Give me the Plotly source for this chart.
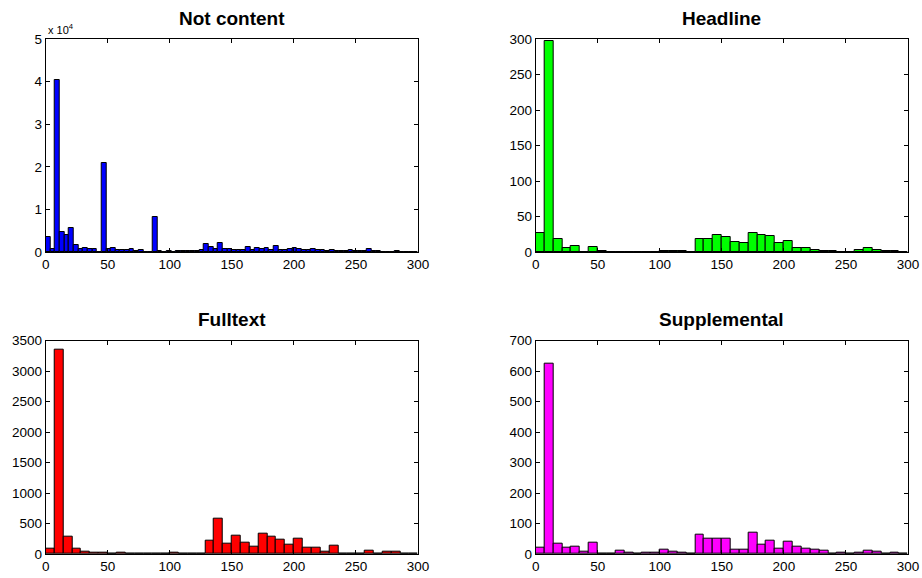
import numpy as np
import plotly.graph_objects as go

# ---------------- data ----------------
titles = ["Not content", "Headline", "Fulltext", "Supplemental"]
colors = ["#0000ff", "#00ff00", "#ff0000", "#ff00ff"]

notcontent_binw = 3.75
notcontent = [3600, 700, 40300, 4600, 4000, 5600, 1600, 600, 900, 700,
              600, 100, 20800, 700, 900, 400, 500, 500, 600, 150,
              500, 100, 100, 8100, 300, 100, 200, 100, 200, 200,
              150, 200, 150, 400, 1800, 1100, 600, 2100, 800, 800,
              400, 400, 400, 1100, 500, 900, 700, 900, 550, 1300,
              500, 550, 800, 900, 800, 500, 500, 700, 500, 400,
              300, 400, 300, 200, 300, 400, 200, 150, 200, 800,
              300, 150, 100, 100, 100, 150, 100, 100, 100, 100]

other_binw = 300 / 42
headline = [27, 297, 18, 6, 8, 0, 7, 1, 0, 0,
            0, 0, 0, 0, 1, 1, 1, 0, 19, 19,
            24, 21, 14, 12, 27, 24, 22, 12, 15, 6,
            6, 3, 2, 2, 0, 0, 3, 5, 3, 2,
            2, 0]
fulltext = [90, 3360, 290, 80, 40, 15, 30, 10, 25, 10,
            5, 10, 5, 5, 25, 5, 10, 3, 225, 575,
            175, 305, 190, 125, 340, 285, 240, 150, 255, 110,
            105, 40, 140, 5, 0, 0, 50, 10, 45, 40,
            10, 0]
supplemental = [22, 626, 34, 22, 25, 8, 37, 2, 2, 10,
                5, 1, 4, 4, 15, 9, 6, 2, 62, 50,
                50, 49, 14, 15, 70, 30, 45, 19, 39, 23,
                19, 15, 12, 2, 5, 1, 5, 10, 9, 1,
                5, 0]

x_ticks = [0, 50, 100, 150, 200, 250, 300]
y_ticks = [
    [0, 10000, 20000, 30000, 40000, 50000],
    [0, 50, 100, 150, 200, 250, 300],
    [0, 500, 1000, 1500, 2000, 2500, 3000, 3500],
    [0, 100, 200, 300, 400, 500, 600, 700],
]
y_ticktext0 = ["0", "1", "2", "3", "4", "5"]

series = [notcontent, headline, fulltext, supplemental]
binws = [notcontent_binw, other_binw, other_binw, other_binw]

# ---------------- layout ----------------
xdoms = [[0.0496, 0.4534], [0.581, 0.9848], [0.0496, 0.4534], [0.581, 0.9848]]
ydoms = [[0.564, 0.9325], [0.564, 0.9325], [0.0415, 0.4106], [0.0415, 0.4106]]

FONT = "Liberation Sans, Arial, Helvetica, sans-serif"
fig = go.Figure()
layout = dict(
    width=922, height=578,
    margin=dict(l=0, r=0, t=0, b=0),
    paper_bgcolor="white", plot_bgcolor="white",
    showlegend=False, bargap=0,
    font=dict(family=FONT, size=13.5, color="black"),
    annotations=[],
)

for i in range(4):
    vals = series[i]
    w = binws[i]
    centers = (np.arange(len(vals)) + 0.5) * w
    xa = "x" if i == 0 else f"x{i+1}"
    ya = "y" if i == 0 else f"y{i+1}"
    fig.add_trace(go.Bar(
        x=centers, y=vals, width=[w] * len(vals),
        marker=dict(color=colors[i], line=dict(color="black", width=1)),
        xaxis=xa, yaxis=ya,
    ))
    common = dict(
        showline=True, linecolor="black", linewidth=1, mirror="ticks",
        ticks="inside", ticklen=4, tickcolor="black", tickwidth=1,
        showgrid=False, zeroline=False, automargin=False,
        tickfont=dict(family=FONT, size=13.5, color="black"),
    )
    xkey = "xaxis" if i == 0 else f"xaxis{i+1}"
    ykey = "yaxis" if i == 0 else f"yaxis{i+1}"
    layout[xkey] = dict(common, domain=xdoms[i], range=[0, 300],
                        tickvals=x_ticks, anchor=ya)
    yt = dict(common, domain=ydoms[i], range=[0, y_ticks[i][-1]],
              tickvals=y_ticks[i], anchor=xa)
    if i == 0:
        yt["ticktext"] = y_ticktext0
    layout[ykey] = yt
    layout["annotations"].append(dict(
        text=f"<b>{titles[i]}</b>", xref="paper", yref="paper",
        x=(xdoms[i][0] + xdoms[i][1]) / 2, y=ydoms[i][1],
        xanchor="center", yanchor="middle", yshift=21, showarrow=False,
        borderpad=0,
        font=dict(family=FONT, size=19, color="black"),
    ))

layout["annotations"].append(dict(
    text="x 10<sup>4</sup>", xref="paper", yref="paper",
    x=xdoms[0][0], y=ydoms[0][1], xanchor="left", yanchor="bottom",
    yshift=1, showarrow=False,
    font=dict(family=FONT, size=11, color="black"),
))

fig.update_layout(**layout)
fig.write_html(
    "out.html",
    config={"displayModeBar": False},
    post_script=(
        "document.body.style.margin='0';"
        "document.body.style.overflow='hidden';"
        "document.documentElement.style.overflow='hidden';"
    ),
)
